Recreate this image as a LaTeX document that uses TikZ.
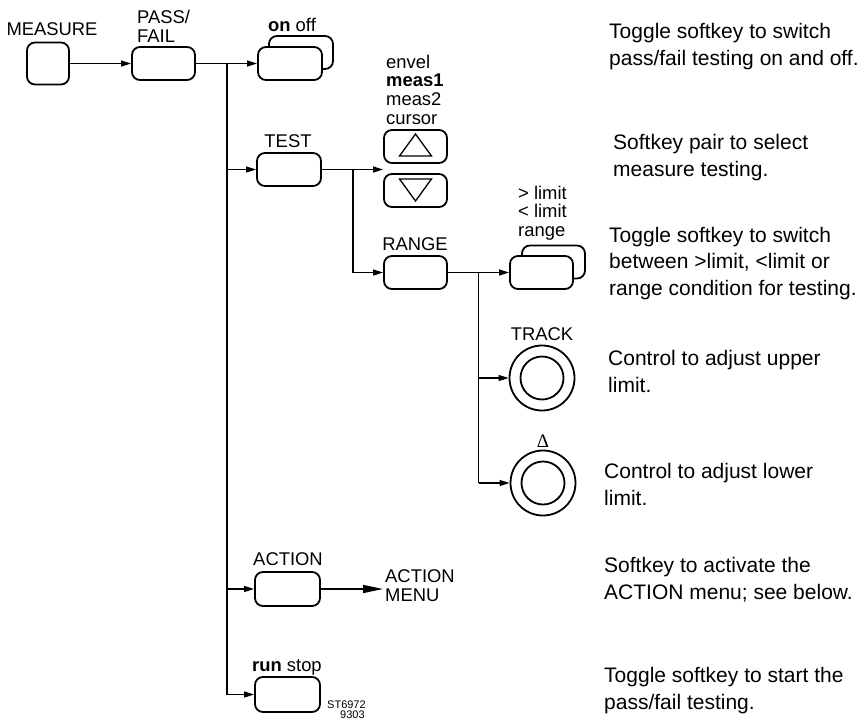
\documentclass[tikz,border=0pt]{standalone}
\usepackage{fontspec}
\setmainfont{Liberation Sans}
\newfontfamily\symfont{Liberation Serif}
\usetikzlibrary{arrows.meta}
\begin{document}
\begin{tikzpicture}[x=1pt,y=-1pt,
  key/.style={draw,line width=1.8pt,rounded corners=8pt,minimum width=63pt,minimum height=33pt,inner sep=0pt,fill=white},
  knob/.style={draw,circle,line width=1.8pt,minimum size=65pt,inner sep=0pt},
  knobin/.style={draw,circle,line width=1.8pt,minimum size=43pt,inner sep=0pt},
  conn/.style={line width=1.2pt},
  arr/.style={conn,-{Triangle[length=10pt,width=6pt]}},
  bigarr/.style={line width=1.6pt,-{Triangle[length=20pt,width=8pt]}},
  lbl/.style={font=\fontsize{18.4}{18.7}\selectfont,inner sep=0pt,align=left},
  tiny/.style={font=\fontsize{11}{11}\selectfont,inner sep=0pt,anchor=west},
  desc/.style={font=\fontsize{21}{26.5}\selectfont,inner sep=0pt,anchor=west,align=left},
  tri/.style={line width=1.3pt}
]
\fill[white] (0,0) rectangle (860,721);
\useasboundingbox (0,0) rectangle (860,721);

% keys
\node[key,minimum width=42pt,minimum height=42pt] (meas) at (48,63.5) {};
\node[key] (pf) at (163.5,63.5) {};
\node[key,minimum width=64pt] (onoffback) at (301,52.5) {};
\node[key,minimum width=64pt] (onoff) at (290,63.5) {};
\node[key,minimum width=64pt] (test) at (289,169.5) {};
\node[key] (up) at (415.5,146.5) {};
\node[key] (down) at (415.5,190.5) {};
\node[key] (range) at (415.5,272.5) {};
\node[key] (rtogback) at (553.5,262) {};
\node[key] (rtog) at (541.5,272.5) {};
\node[knob] (track) at (542,378) {};
\node[knobin] (trackin) at (542,378) {};
\node[knob] (delta) at (543,483) {};
\node[knobin] (deltain) at (543,483) {};
\node[key,minimum width=65pt,minimum height=34pt] (action) at (287.5,589) {};
\node[key,minimum width=65pt,minimum height=35pt] (run) at (287.5,694.5) {};

% triangles
\draw[tri] ([shift={(-16,9.5)}]up.center) -- ([shift={(16,9.5)}]up.center) -- ([shift={(0,-12.5)}]up.center) -- cycle;
\draw[tri] ([shift={(-16,-11.5)}]down.center) -- ([shift={(16,-11.5)}]down.center) -- ([shift={(0,10.5)}]down.center) -- cycle;

% labels
\node[lbl] (lmeas) at (52,29.5) {MEASURE};
\node[lbl,anchor=west] (lpf) at (137,26) {PASS/\\FAIL};
\node[lbl] (lonoff) at (292,24.5) {\textbf{on} off};
\node[lbl] (ltest) at (288,141.5) {TEST};
\node[lbl,anchor=west] (lenv) at (386,89.7) {envel\\\textbf{meas1}\\meas2\\cursor};
\node[lbl] (lrange) at (415,244) {RANGE};
\node[lbl,anchor=west] (llim) at (518,213) {> limit\\< limit\\range};
\node[lbl] (ltrack) at (542,334.5) {TRACK};
\node[lbl,font=\fontsize{19}{19}\symfont] (ldelta) at (543,441) {Δ};
\node[lbl] (laction) at (288,559.5) {ACTION};
\node[lbl,anchor=west] (lrun) at (252,667) {\textbf{run} stop};
\node[lbl,anchor=west] (amtext) at (385,585.5) {ACTION\\MENU};
\node[tiny] (st) at (327,705) {ST6972};
\node[tiny] (stnum) at (340,714.5) {9303};

% connectors
\coordinate (j1) at (227,63.5);
\coordinate (jt) at (353,169.5);
\coordinate (jr) at (478.5,272.5);
\coordinate (tgap) at (up.west |- test.east);
\coordinate (am) at (383,589);
\draw[arr] (meas.east) -- (pf.west);
\draw[conn] (pf.east) -- (j1) -- (j1 |- run.west);
\draw[arr] (j1) -- (onoff.west);
\draw[arr] (j1 |- test.west) -- (test.west);
\draw[arr] (j1 |- action.west) -- (action.west);
\draw[arr] (j1 |- run.west) -- (run.west);
\draw[arr] (test.east) -- (tgap);
\draw[arr] (jt) |- (range.west);
\draw[arr] (range.east) -- (rtog.west);
\draw[conn] (jr) -- (jr |- delta.west);
\draw[arr] (jr |- track.west) -- (track.west);
\draw[arr] (jr |- delta.west) -- (delta.west);
\draw[bigarr] (action.east) -- (am);

% descriptions
\node[desc] (d1) at (609,46.5) {Toggle softkey to switch\\pass/fail testing on and off.};
\node[desc] (d2) at (613,157.5) {Softkey pair to select\\measure testing.};
\node[desc] (d3) at (609,263.5) {Toggle softkey to switch\\between >limit, <limit or\\range condition for testing.};
\node[desc] (d4) at (608,371.5) {Control to adjust upper\\limit.};
\node[desc] (d5) at (604,484.5) {Control to adjust lower\\limit.};
\node[desc] (d6) at (604,579.5) {Softkey to activate the\\ACTION menu; see below.};
\node[desc] (d7) at (604,690.5) {Toggle softkey to start the\\pass/fail testing.};
\end{tikzpicture}
\end{document}
